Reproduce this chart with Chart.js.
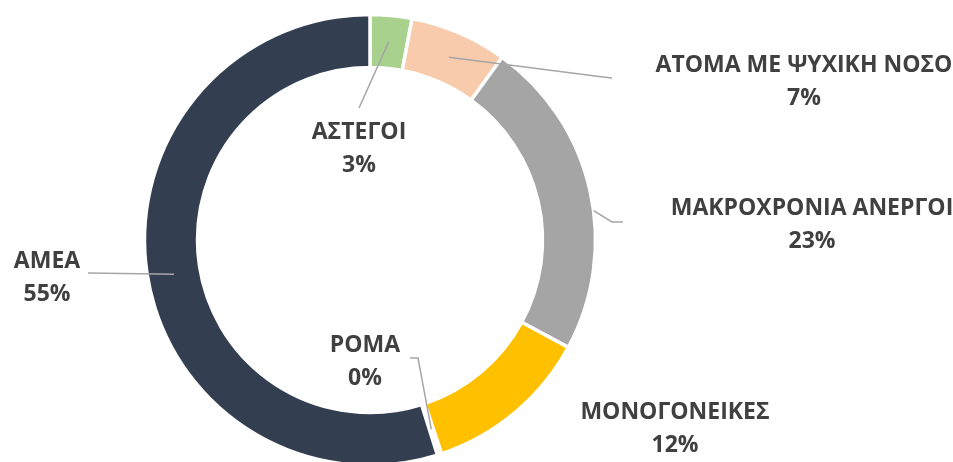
<!DOCTYPE html>
<html>
<head>
<meta charset="utf-8">
<script src="https://cdn.jsdelivr.net/npm/chart.js@4"></script>
<style>
  html, body { margin: 0; padding: 0; background: #fff; overflow: hidden; }
  #wrap { width: 953px; height: 462px; overflow: hidden; }
</style>
</head>
<body>
<div id="wrap"><canvas id="pie" width="953" height="470"></canvas></div>
<script>
// Κατηγορίες και τιμές
const categories = ["ΑΣΤΕΓΟΙ", "ΑΤΟΜΑ ΜΕ ΨΥΧΙΚΗ ΝΟΣΟ", "ΜΑΚΡΟΧΡΟΝΙΑ ΑΝΕΡΓΟΙ", "ΜΟΝΟΓΟΝΕΙΚΕΣ", "ΡΟΜΑ", "ΑΜΕΑ"];
const values = [3, 7, 23, 12, 0.3, 55];
const pctLabels = ["3%", "7%", "23%", "12%", "0%", "55%"];
const colors = ["#A9D18E", "#F8CBAD", "#A5A5A5", "#FFC000", "#FFFFFF", "#333F50"];

// θέσεις ετικετών (κέντρο κειμένου) και γραμμές οδηγοί
const labelPos = [[359, 130], [804, 63], [812, 206], [675, 410], [365, 343], [47, 259]];
// anchor: [θέση μέσα στη φέτα 0..1, ακτίνα 0=εσωτ. 1=εξωτ.], μετά σημεία της γραμμής
const leaders = [
  { anchor: [0.5, 0.5], pts: [[359, 108]] },
  { anchor: [0.5, 0.5], pts: [[603, 77], [612, 78]] },
  { anchor: [0.565, 1.0], pts: [[612, 222], [623, 222]] },
  null,
  { anchor: [0.5, 0.5], pts: [[418, 358], [410, 358]] },
  { anchor: [0.494, 0.5], pts: [[88, 273]] }
];

const labelsPlugin = {
  id: "labelsPlugin",
  afterDraw(chart) {
    const ctx = chart.ctx;
    const arcs = chart.getDatasetMeta(0).data;
    ctx.save();
    // γραμμές
    ctx.strokeStyle = "#A6A6A6";
    ctx.lineWidth = 1.5;
    leaders.forEach((l, i) => {
      if (!l) return;
      const a = arcs[i];
      const ang = a.startAngle + (a.endAngle - a.startAngle) * l.anchor[0];
      const r = a.innerRadius + (a.outerRadius - a.innerRadius) * l.anchor[1];
      ctx.beginPath();
      ctx.moveTo(a.x + r * Math.cos(ang), a.y + r * Math.sin(ang));
      l.pts.forEach(p => ctx.lineTo(p[0], p[1]));
      ctx.stroke();
    });
    // κείμενα
    ctx.fillStyle = "#404040";
    ctx.font = "bold 23px 'Open Sans'";
    ctx.textAlign = "center";
    ctx.textBaseline = "alphabetic";
    categories.forEach((c, i) => {
      const [x, y] = labelPos[i];
      ctx.fillText(c, x, y + 8.5);
      ctx.fillText(pctLabels[i], x, y + 8.5 + 33);
    });
    ctx.restore();
  }
};

new Chart(document.getElementById("pie").getContext("2d"), {
  type: "doughnut",
  data: {
    labels: categories,
    datasets: [{
      data: values,
      backgroundColor: colors,
      borderColor: "#FFFFFF",
      borderWidth: 3.5
    }]
  },
  options: {
    responsive: false,
    animation: false,
    cutout: "76.5%",
    radius: 225.5,
    layout: { padding: { left: 144, right: 357, top: 14, bottom: 4 } },
    plugins: {
      legend: { display: false },
      tooltip: { enabled: false }
    }
  },
  plugins: [labelsPlugin]
});
</script>
</body>
</html>
